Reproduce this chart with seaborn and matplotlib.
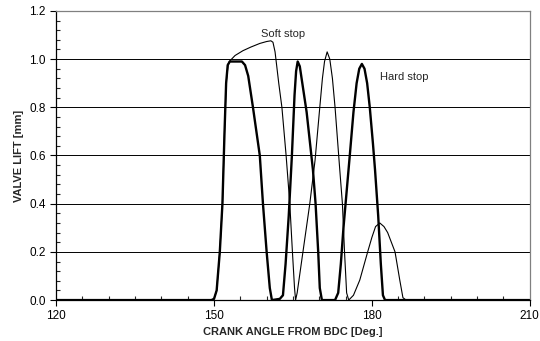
import matplotlib
matplotlib.use('Agg')
import matplotlib.pyplot as plt
import seaborn as sns
from matplotlib.ticker import MultipleLocator

# Hard stop valve lift (thick line)
hard_angle = [120, 149.5, 150.0, 150.5, 151.1, 151.6, 152.0, 152.3, 152.6, 153.0,
              155.3, 155.9, 156.5, 157.4, 158.7, 159.3, 160.0, 160.6, 161.0,
              162.5, 163.1, 163.6, 164.2, 164.8, 165.3, 165.6, 165.9, 166.3, 167.6, 168.8, 169.3, 169.8,
              170.1, 170.5,
              173.0, 173.6, 174.1, 174.6, 175.2, 175.8, 176.5, 177.1, 177.6, 178.1, 178.6, 179.1, 179.6,
              180.2, 180.6, 181.2, 181.7, 182.1, 182.5, 210]
hard_lift = [0, 0, 0.005, 0.04, 0.2, 0.4, 0.7, 0.9, 0.975, 0.99,
             0.99, 0.975, 0.93, 0.8, 0.6, 0.4, 0.2, 0.05, 0.0,
             0.005, 0.02, 0.15, 0.35, 0.6, 0.85, 0.95, 0.99, 0.97, 0.78, 0.54, 0.4, 0.2,
             0.05, 0.0,
             0.0, 0.03, 0.15, 0.3, 0.45, 0.6, 0.78, 0.9, 0.96, 0.98, 0.96, 0.9, 0.8,
             0.65, 0.54, 0.35, 0.15, 0.02, 0.0, 0]

# Soft stop valve lift (thin line)
soft_angle = [120, 149.5, 150.0, 150.5, 151.1, 151.6, 152.0, 152.3, 152.7, 152.9,
              154.0, 155.5, 157.0, 158.7, 160.0, 160.8, 161.2, 161.6, 162.3, 162.9, 163.7,
              164.4, 164.9, 165.3, 165.5, 165.8, 166.9, 168.2, 169.2, 170.1, 170.6, 171.0,
              171.5, 172.0, 172.5, 173.0, 173.9, 174.4, 174.8, 175.2, 175.6, 176.5, 177.7,
              179.2, 180.0, 180.7, 181.5, 182.3, 183.0, 184.4, 185.3, 185.9, 186.5, 210]
soft_lift = [0, 0, 0.005, 0.04, 0.2, 0.4, 0.7, 0.9, 0.98, 0.99,
             1.015, 1.035, 1.05, 1.065, 1.073, 1.076, 1.07, 1.03, 0.9, 0.8, 0.6,
             0.4, 0.2, 0.05, 0.0, 0.03, 0.2, 0.4, 0.58, 0.8, 0.92, 0.99,
             1.03, 1.0, 0.92, 0.8, 0.54, 0.4, 0.2, 0.03, 0.0, 0.02, 0.083,
             0.2, 0.26, 0.305, 0.32, 0.305, 0.28, 0.2, 0.083, 0.01, 0, 0]

sns.set_style('white')
plt.rcParams['font.family'] = ['Liberation Sans', 'DejaVu Sans']

fig, ax = plt.subplots(figsize=(5.4, 3.41), dpi=100)
fig.subplots_adjust(left=0.104, right=0.981, top=0.968, bottom=0.12)

sns.lineplot(x=soft_angle, y=soft_lift, ax=ax, color='black', linewidth=0.8, estimator=None,
             solid_joinstyle='round')
sns.lineplot(x=hard_angle, y=hard_lift, ax=ax, color='black', linewidth=1.7, estimator=None,
             solid_joinstyle='round')

ax.set_xlim(120, 210)
ax.set_ylim(0, 1.2)
ax.xaxis.set_major_locator(MultipleLocator(30))
ax.xaxis.set_minor_locator(MultipleLocator(5))
ax.yaxis.set_major_locator(MultipleLocator(0.2))
ax.yaxis.set_minor_locator(MultipleLocator(0.04))
ax.yaxis.set_major_formatter(plt.FormatStrFormatter('%.1f'))

ax.grid(axis='y', which='major', color='black', linewidth=0.7)
ax.grid(axis='x', visible=False)
ax.set_axisbelow(True)

ax.tick_params(which='major', direction='out', length=4, width=0.8, labelsize=8.5, colors='black')
ax.tick_params(which='minor', direction='in', length=3, width=0.8)
ax.tick_params(axis='x', which='both', bottom=True)
ax.tick_params(axis='y', which='both', left=True)

for side in ['left', 'bottom']:
    ax.spines[side].set_color('black')
    ax.spines[side].set_linewidth(0.9)
for side in ['top', 'right']:
    ax.spines[side].set_color('#808080')
    ax.spines[side].set_linewidth(0.9)

ax.set_xlabel('CRANK ANGLE FROM BDC [Deg.]', fontsize=8, fontweight='bold', labelpad=3)
ax.set_ylabel('VALVE LIFT [mm]', fontsize=8, fontweight='bold', labelpad=4)

ax.text(163.2, 1.085, 'Soft stop', fontsize=8, ha='center', va='bottom')
ax.text(181.5, 0.925, 'Hard stop', fontsize=8, ha='left', va='center')

fig.savefig('out.png', dpi=100)
